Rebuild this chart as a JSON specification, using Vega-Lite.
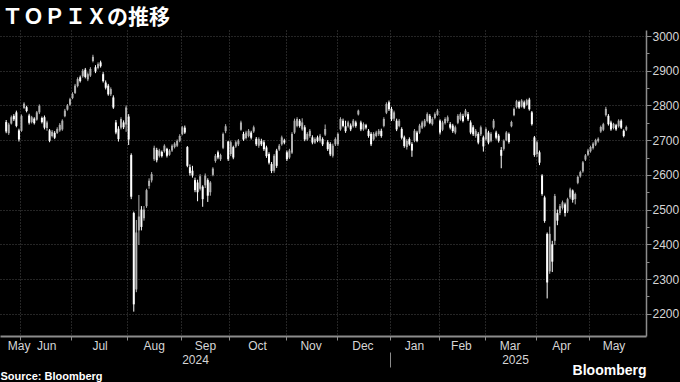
{
  "$schema": "https://vega.github.io/schema/vega-lite/v6.json",
  "width": 646,
  "height": 306,
  "autosize": "none",
  "padding": {"left": 0, "top": 30, "right": 34, "bottom": 46},
  "background": "#000000",
  "title": {"text": "ＴＯＰＩＸの推移", "anchor": "start", "frame": "group", "font": "Noto Sans CJK JP", "fontSize": 21, "fontWeight": "bold", "color": "#ffffff", "offset": 5, "baseline": "alphabetic", "dx": 2, "dy": 20},
  "config": {"view": {"stroke": null}},
  "data": {"values": [
{"i":0,"o":2752,"h":2758,"l":2720,"c":2725},
{"i":1,"o":2720,"h":2750,"l":2715,"c":2745},
{"i":2,"o":2748,"h":2771,"l":2745,"c":2766},
{"i":3,"o":2770,"h":2775,"l":2755,"c":2760},
{"i":4,"o":2780,"h":2785,"l":2737,"c":2741},
{"i":5,"o":2728,"h":2733,"l":2696,"c":2702},
{"i":6,"o":2727,"h":2774,"l":2724,"c":2770},
{"i":7,"o":2793,"h":2809,"l":2790,"c":2805},
{"i":8,"o":2795,"h":2799,"l":2780,"c":2784},
{"i":9,"o":2771,"h":2776,"l":2745,"c":2750},
{"i":10,"o":2752,"h":2770,"l":2748,"c":2766},
{"i":11,"o":2762,"h":2766,"l":2745,"c":2749},
{"i":12,"o":2759,"h":2784,"l":2756,"c":2780},
{"i":13,"o":2780,"h":2803,"l":2775,"c":2799},
{"i":14,"o":2764,"h":2768,"l":2748,"c":2752},
{"i":15,"o":2766,"h":2771,"l":2731,"c":2736},
{"i":16,"o":2735,"h":2756,"l":2727,"c":2751},
{"i":17,"o":2728,"h":2732,"l":2694,"c":2698},
{"i":18,"o":2712,"h":2729,"l":2708,"c":2724},
{"i":19,"o":2721,"h":2726,"l":2703,"c":2707},
{"i":20,"o":2721,"h":2737,"l":2718,"c":2732},
{"i":21,"o":2728,"h":2749,"l":2724,"c":2744},
{"i":22,"o":2731,"h":2760,"l":2727,"c":2756},
{"i":23,"o":2769,"h":2790,"l":2766,"c":2785},
{"i":24,"o":2788,"h":2804,"l":2785,"c":2800},
{"i":25,"o":2802,"h":2822,"l":2799,"c":2818},
{"i":26,"o":2821,"h":2838,"l":2818,"c":2833},
{"i":27,"o":2836,"h":2862,"l":2833,"c":2857},
{"i":28,"o":2856,"h":2881,"l":2852,"c":2876},
{"i":29,"o":2881,"h":2886,"l":2866,"c":2870},
{"i":30,"o":2884,"h":2905,"l":2880,"c":2900},
{"i":31,"o":2903,"h":2908,"l":2878,"c":2882},
{"i":32,"o":2875,"h":2895,"l":2870,"c":2890},
{"i":33,"o":2886,"h":2910,"l":2882,"c":2905},
{"i":34,"o":2928,"h":2946,"l":2924,"c":2940},
{"i":35,"o":2910,"h":2916,"l":2893,"c":2898},
{"i":36,"o":2908,"h":2924,"l":2904,"c":2919},
{"i":37,"o":2924,"h":2929,"l":2909,"c":2913},
{"i":38,"o":2890,"h":2896,"l":2866,"c":2870},
{"i":39,"o":2866,"h":2872,"l":2846,"c":2851},
{"i":40,"o":2857,"h":2862,"l":2828,"c":2832},
{"i":41,"o":2832,"h":2852,"l":2827,"c":2847},
{"i":42,"o":2823,"h":2829,"l":2790,"c":2794},
{"i":43,"o":2751,"h":2758,"l":2717,"c":2722},
{"i":44,"o":2733,"h":2740,"l":2696,"c":2703},
{"i":45,"o":2736,"h":2766,"l":2731,"c":2761},
{"i":46,"o":2751,"h":2757,"l":2732,"c":2737},
{"i":47,"o":2745,"h":2800,"l":2724,"c":2794},
{"i":48,"o":2768,"h":2775,"l":2686,"c":2702},
{"i":49,"o":2657,"h":2662,"l":2530,"c":2537},
{"i":50,"o":2490,"h":2494,"l":2206,"c":2227},
{"i":51,"o":2270,"h":2470,"l":2262,"c":2434},
{"i":52,"o":2440,"h":2542,"l":2398,"c":2480},
{"i":53,"o":2500,"h":2510,"l":2440,"c":2450},
{"i":54,"o":2475,"h":2510,"l":2468,"c":2500},
{"i":55,"o":2510,"h":2560,"l":2505,"c":2556},
{"i":56,"o":2568,"h":2590,"l":2560,"c":2583},
{"i":57,"o":2584,"h":2608,"l":2578,"c":2602},
{"i":58,"o":2645,"h":2684,"l":2640,"c":2678},
{"i":59,"o":2672,"h":2678,"l":2636,"c":2642},
{"i":60,"o":2655,"h":2675,"l":2650,"c":2670},
{"i":61,"o":2666,"h":2670,"l":2650,"c":2654},
{"i":62,"o":2668,"h":2688,"l":2664,"c":2684},
{"i":63,"o":2675,"h":2678,"l":2650,"c":2655},
{"i":64,"o":2658,"h":2674,"l":2655,"c":2670},
{"i":65,"o":2670,"h":2688,"l":2666,"c":2684},
{"i":66,"o":2680,"h":2694,"l":2676,"c":2690},
{"i":67,"o":2684,"h":2702,"l":2680,"c":2698},
{"i":68,"o":2698,"h":2717,"l":2694,"c":2712},
{"i":69,"o":2717,"h":2741,"l":2714,"c":2737},
{"i":70,"o":2736,"h":2742,"l":2718,"c":2722},
{"i":71,"o":2680,"h":2683,"l":2622,"c":2626},
{"i":72,"o":2622,"h":2630,"l":2598,"c":2605},
{"i":73,"o":2612,"h":2626,"l":2592,"c":2598},
{"i":74,"o":2585,"h":2592,"l":2550,"c":2556},
{"i":75,"o":2578,"h":2586,"l":2524,"c":2550},
{"i":76,"o":2560,"h":2602,"l":2555,"c":2596},
{"i":77,"o":2566,"h":2570,"l":2508,"c":2530},
{"i":78,"o":2570,"h":2604,"l":2562,"c":2598},
{"i":79,"o":2585,"h":2590,"l":2522,"c":2540},
{"i":80,"o":2550,"h":2582,"l":2540,"c":2578},
{"i":81,"o":2600,"h":2622,"l":2596,"c":2618},
{"i":82,"o":2640,"h":2660,"l":2635,"c":2655},
{"i":83,"o":2665,"h":2670,"l":2645,"c":2650},
{"i":84,"o":2645,"h":2661,"l":2640,"c":2657},
{"i":85,"o":2678,"h":2722,"l":2674,"c":2718},
{"i":86,"o":2726,"h":2746,"l":2720,"c":2740},
{"i":87,"o":2696,"h":2698,"l":2640,"c":2645},
{"i":88,"o":2660,"h":2699,"l":2654,"c":2694},
{"i":89,"o":2680,"h":2684,"l":2645,"c":2650},
{"i":90,"o":2682,"h":2699,"l":2678,"c":2694},
{"i":91,"o":2688,"h":2703,"l":2683,"c":2699},
{"i":92,"o":2730,"h":2756,"l":2727,"c":2751},
{"i":93,"o":2718,"h":2724,"l":2698,"c":2702},
{"i":94,"o":2706,"h":2727,"l":2702,"c":2722},
{"i":95,"o":2712,"h":2732,"l":2708,"c":2727},
{"i":96,"o":2722,"h":2727,"l":2702,"c":2707},
{"i":97,"o":2725,"h":2742,"l":2721,"c":2737},
{"i":98,"o":2704,"h":2709,"l":2683,"c":2688},
{"i":99,"o":2684,"h":2708,"l":2678,"c":2703},
{"i":100,"o":2698,"h":2704,"l":2683,"c":2688},
{"i":101,"o":2694,"h":2700,"l":2669,"c":2674},
{"i":102,"o":2679,"h":2684,"l":2649,"c":2654},
{"i":103,"o":2660,"h":2665,"l":2630,"c":2635},
{"i":104,"o":2631,"h":2637,"l":2605,"c":2611},
{"i":105,"o":2612,"h":2660,"l":2606,"c":2655},
{"i":106,"o":2670,"h":2675,"l":2620,"c":2626},
{"i":107,"o":2673,"h":2689,"l":2669,"c":2684},
{"i":108,"o":2688,"h":2713,"l":2684,"c":2708},
{"i":109,"o":2699,"h":2704,"l":2688,"c":2693},
{"i":110,"o":2665,"h":2670,"l":2640,"c":2645},
{"i":111,"o":2650,"h":2675,"l":2646,"c":2670},
{"i":112,"o":2664,"h":2723,"l":2660,"c":2718},
{"i":113,"o":2722,"h":2762,"l":2718,"c":2756},
{"i":114,"o":2741,"h":2766,"l":2737,"c":2761},
{"i":115,"o":2756,"h":2761,"l":2736,"c":2741},
{"i":116,"o":2731,"h":2763,"l":2727,"c":2751},
{"i":117,"o":2737,"h":2743,"l":2697,"c":2702},
{"i":118,"o":2702,"h":2723,"l":2698,"c":2718},
{"i":119,"o":2712,"h":2732,"l":2707,"c":2727},
{"i":120,"o":2708,"h":2714,"l":2688,"c":2693},
{"i":121,"o":2693,"h":2708,"l":2689,"c":2703},
{"i":122,"o":2708,"h":2713,"l":2694,"c":2698},
{"i":123,"o":2698,"h":2718,"l":2693,"c":2713},
{"i":124,"o":2703,"h":2708,"l":2683,"c":2688},
{"i":125,"o":2716,"h":2745,"l":2712,"c":2732},
{"i":126,"o":2694,"h":2700,"l":2669,"c":2674},
{"i":127,"o":2689,"h":2694,"l":2654,"c":2659},
{"i":128,"o":2655,"h":2690,"l":2650,"c":2684},
{"i":129,"o":2688,"h":2708,"l":2683,"c":2703},
{"i":130,"o":2688,"h":2722,"l":2683,"c":2718},
{"i":131,"o":2731,"h":2766,"l":2727,"c":2761},
{"i":132,"o":2756,"h":2762,"l":2737,"c":2741},
{"i":133,"o":2740,"h":2756,"l":2721,"c":2726},
{"i":134,"o":2740,"h":2756,"l":2736,"c":2751},
{"i":135,"o":2742,"h":2748,"l":2726,"c":2731},
{"i":136,"o":2740,"h":2761,"l":2736,"c":2756},
{"i":137,"o":2751,"h":2756,"l":2736,"c":2741},
{"i":138,"o":2774,"h":2788,"l":2771,"c":2785},
{"i":139,"o":2751,"h":2756,"l":2726,"c":2731},
{"i":140,"o":2731,"h":2751,"l":2727,"c":2746},
{"i":141,"o":2743,"h":2747,"l":2731,"c":2736},
{"i":142,"o":2727,"h":2732,"l":2707,"c":2712},
{"i":143,"o":2718,"h":2723,"l":2683,"c":2688},
{"i":144,"o":2702,"h":2723,"l":2698,"c":2718},
{"i":145,"o":2712,"h":2727,"l":2708,"c":2722},
{"i":146,"o":2717,"h":2732,"l":2712,"c":2727},
{"i":147,"o":2727,"h":2733,"l":2707,"c":2712},
{"i":148,"o":2741,"h":2766,"l":2737,"c":2761},
{"i":149,"o":2779,"h":2809,"l":2775,"c":2804},
{"i":150,"o":2809,"h":2814,"l":2784,"c":2789},
{"i":151,"o":2790,"h":2796,"l":2755,"c":2760},
{"i":152,"o":2762,"h":2785,"l":2755,"c":2780},
{"i":153,"o":2756,"h":2762,"l":2726,"c":2731},
{"i":154,"o":2741,"h":2761,"l":2737,"c":2756},
{"i":155,"o":2732,"h":2737,"l":2702,"c":2707},
{"i":156,"o":2708,"h":2713,"l":2678,"c":2683},
{"i":157,"o":2680,"h":2703,"l":2673,"c":2698},
{"i":158,"o":2703,"h":2708,"l":2684,"c":2688},
{"i":159,"o":2689,"h":2694,"l":2652,"c":2670},
{"i":160,"o":2698,"h":2732,"l":2694,"c":2727},
{"i":161,"o":2722,"h":2727,"l":2694,"c":2698},
{"i":162,"o":2722,"h":2747,"l":2718,"c":2742},
{"i":163,"o":2736,"h":2756,"l":2732,"c":2751},
{"i":164,"o":2741,"h":2761,"l":2737,"c":2756},
{"i":165,"o":2755,"h":2780,"l":2751,"c":2775},
{"i":166,"o":2770,"h":2775,"l":2746,"c":2750},
{"i":167,"o":2746,"h":2766,"l":2742,"c":2761},
{"i":168,"o":2764,"h":2780,"l":2760,"c":2775},
{"i":169,"o":2773,"h":2790,"l":2770,"c":2785},
{"i":170,"o":2756,"h":2760,"l":2716,"c":2722},
{"i":171,"o":2730,"h":2756,"l":2726,"c":2751},
{"i":172,"o":2749,"h":2766,"l":2745,"c":2761},
{"i":173,"o":2755,"h":2771,"l":2750,"c":2766},
{"i":174,"o":2746,"h":2752,"l":2731,"c":2736},
{"i":175,"o":2742,"h":2747,"l":2721,"c":2726},
{"i":176,"o":2722,"h":2742,"l":2717,"c":2737},
{"i":177,"o":2750,"h":2775,"l":2746,"c":2770},
{"i":178,"o":2760,"h":2780,"l":2756,"c":2775},
{"i":179,"o":2770,"h":2776,"l":2751,"c":2755},
{"i":180,"o":2770,"h":2790,"l":2766,"c":2785},
{"i":181,"o":2775,"h":2781,"l":2755,"c":2760},
{"i":182,"o":2751,"h":2757,"l":2717,"c":2722},
{"i":183,"o":2737,"h":2743,"l":2712,"c":2717},
{"i":184,"o":2712,"h":2732,"l":2707,"c":2727},
{"i":185,"o":2718,"h":2723,"l":2688,"c":2693},
{"i":186,"o":2717,"h":2742,"l":2712,"c":2737},
{"i":187,"o":2708,"h":2713,"l":2667,"c":2682},
{"i":188,"o":2702,"h":2737,"l":2698,"c":2732},
{"i":189,"o":2722,"h":2727,"l":2688,"c":2693},
{"i":190,"o":2698,"h":2723,"l":2694,"c":2718},
{"i":191,"o":2736,"h":2761,"l":2731,"c":2756},
{"i":192,"o":2722,"h":2727,"l":2702,"c":2707},
{"i":193,"o":2713,"h":2718,"l":2693,"c":2698},
{"i":194,"o":2672,"h":2680,"l":2619,"c":2655},
{"i":195,"o":2675,"h":2702,"l":2670,"c":2698},
{"i":196,"o":2700,"h":2726,"l":2697,"c":2722},
{"i":197,"o":2718,"h":2722,"l":2690,"c":2695},
{"i":198,"o":2740,"h":2756,"l":2737,"c":2752},
{"i":199,"o":2772,"h":2794,"l":2769,"c":2790},
{"i":200,"o":2795,"h":2816,"l":2791,"c":2812},
{"i":201,"o":2810,"h":2814,"l":2790,"c":2794},
{"i":202,"o":2797,"h":2818,"l":2794,"c":2814},
{"i":203,"o":2809,"h":2814,"l":2790,"c":2794},
{"i":204,"o":2802,"h":2819,"l":2799,"c":2815},
{"i":205,"o":2817,"h":2822,"l":2785,"c":2789},
{"i":206,"o":2780,"h":2784,"l":2742,"c":2746},
{"i":207,"o":2708,"h":2712,"l":2652,"c":2657},
{"i":208,"o":2660,"h":2699,"l":2652,"c":2694},
{"i":209,"o":2665,"h":2670,"l":2628,"c":2635},
{"i":210,"o":2598,"h":2602,"l":2540,"c":2545},
{"i":211,"o":2535,"h":2540,"l":2462,"c":2467},
{"i":212,"o":2430,"h":2434,"l":2244,"c":2290},
{"i":213,"o":2322,"h":2451,"l":2315,"c":2430},
{"i":214,"o":2400,"h":2410,"l":2320,"c":2350},
{"i":215,"o":2410,"h":2545,"l":2398,"c":2539},
{"i":216,"o":2490,"h":2500,"l":2455,"c":2468},
{"i":217,"o":2490,"h":2516,"l":2484,"c":2510},
{"i":218,"o":2505,"h":2526,"l":2500,"c":2521},
{"i":219,"o":2515,"h":2520,"l":2480,"c":2490},
{"i":220,"o":2495,"h":2534,"l":2490,"c":2530},
{"i":221,"o":2535,"h":2563,"l":2530,"c":2558},
{"i":222,"o":2555,"h":2558,"l":2520,"c":2528},
{"i":223,"o":2530,"h":2549,"l":2515,"c":2545},
{"i":224,"o":2577,"h":2598,"l":2573,"c":2594},
{"i":225,"o":2596,"h":2612,"l":2592,"c":2608},
{"i":226,"o":2610,"h":2640,"l":2606,"c":2636},
{"i":227,"o":2644,"h":2660,"l":2640,"c":2656},
{"i":228,"o":2658,"h":2675,"l":2654,"c":2670},
{"i":229,"o":2668,"h":2684,"l":2664,"c":2680},
{"i":230,"o":2677,"h":2694,"l":2673,"c":2690},
{"i":231,"o":2687,"h":2704,"l":2683,"c":2700},
{"i":232,"o":2697,"h":2708,"l":2693,"c":2704},
{"i":233,"o":2725,"h":2742,"l":2721,"c":2738},
{"i":234,"o":2730,"h":2750,"l":2726,"c":2746},
{"i":235,"o":2772,"h":2796,"l":2768,"c":2790},
{"i":236,"o":2770,"h":2775,"l":2742,"c":2746},
{"i":237,"o":2751,"h":2756,"l":2727,"c":2731},
{"i":238,"o":2735,"h":2750,"l":2731,"c":2747},
{"i":239,"o":2743,"h":2747,"l":2727,"c":2731},
{"i":240,"o":2740,"h":2760,"l":2736,"c":2756},
{"i":241,"o":2756,"h":2760,"l":2732,"c":2736},
{"i":242,"o":2727,"h":2731,"l":2708,"c":2712},
{"i":243,"o":2730,"h":2742,"l":2726,"c":2738}
  ]},
  "resolve": {"axis": {"x": "independent", "y": "independent"}},
  "layer": [
    {
      "mark": {"type": "rule", "strokeWidth": 1},
      "encoding": {
        "x": {"field": "i", "type": "quantitative",
          "scale": {"domain": [-0.463, 248.77], "nice": false, "zero": false},
          "axis": {"orient": "bottom", "values": [5.5, 25.5, 47.5, 68.5, 87.5, 109.5, 129.5, 150.5, 169.5, 187.5, 207.5, 228.5],
            "labels": false, "title": null, "grid": true, "gridColor": "#4a4a4a", "gridDash": [1, 2], "gridWidth": 1,
            "domain": true, "domainColor": "#8c8c8c", "domainWidth": 2, "ticks": true, "tickColor": "#8c8c8c", "tickSize": 4, "tickWidth": 1}},
        "y": {"field": "l", "type": "quantitative",
          "scale": {"domain": [2135.8, 3017.3], "nice": false, "zero": false},
          "axis": {"orient": "right", "values": [2200, 2300, 2400, 2500, 2600, 2700, 2800, 2900, 3000], "format": "d", "title": null,
            "grid": true, "gridColor": "#4a4a4a", "gridDash": [1, 2], "gridWidth": 1,
            "domain": true, "domainColor": "#8c8c8c", "domainWidth": 1.5, "ticks": true, "tickSize": 5, "tickColor": "#8c8c8c",
            "labelColor": "#d6d6d6", "labelFont": "Liberation Sans", "labelFontSize": 12, "labelPadding": 1, "labelFlush": false, "labelOverlap": false}},
        "y2": {"field": "h"},
        "color": {"condition": {"test": "datum.c >= datum.o", "value": "#b0b0b0"}, "value": "#ffffff"}
      }
    },
    {
      "mark": {"type": "bar", "width": 2},
      "encoding": {
        "x": {"field": "i", "type": "quantitative",
          "scale": {"domain": [-0.463, 248.77], "nice": false, "zero": false},
          "axis": {"orient": "bottom", "values": [4.9, 15.7, 36.6, 57.8, 77.9, 98.3, 119.3, 139.6, 159.8, 178.2, 197.3, 217.5, 238],
            "labelExpr": "['May','Jun','Jul','Aug','Sep','Oct','Nov','Dec','Jan','Feb','Mar','Apr','May'][indexof([4.9, 15.7, 36.6, 57.8, 77.9, 98.3, 119.3, 139.6, 159.8, 178.2, 197.3, 217.5, 238], datum.value)]",
            "ticks": false, "domain": false, "grid": false,
            "labelColor": "#d6d6d6", "labelFont": "Liberation Sans", "labelFontSize": 12, "labelPadding": 4,
            "labelOverlap": false, "labelFlush": false, "labelBound": false,
            "title": "Bloomberg", "titleAnchor": "end", "titleAlign": "right", "titleColor": "#ffffff", "titleFont": "Liberation Sans",
            "titleFontSize": 14, "titleFontWeight": "bold", "titlePadding": 12}},
        "y": {"field": "o", "type": "quantitative",
          "scale": {"domain": [2135.8, 3017.3], "nice": false, "zero": false},
          "axis": {"orient": "right", "values": [2250, 2350, 2450, 2550, 2650, 2750, 2850, 2950], "title": null,
            "labels": false, "grid": false, "domain": false, "ticks": true, "tickSize": 3, "tickColor": "#8c8c8c"}},
        "y2": {"field": "c"},
        "color": {"condition": {"test": "datum.c >= datum.o", "value": "#b0b0b0"}, "value": "#ffffff"}
      }
    },
    {
      "mark": {"type": "rule", "opacity": 0},
      "encoding": {
        "x": {"field": "i", "type": "quantitative",
          "scale": {"domain": [-0.463, 248.77], "nice": false, "zero": false},
          "axis": {"orient": "bottom", "offset": 16, "values": [74, 150.5, 199.4],
            "labelExpr": "datum.value == 74 ? '2024' : (datum.value == 199.4 ? '2025' : '')",
            "domain": false, "grid": false, "ticks": true, "tickSize": 15, "tickWidth": 1,
            "tickColor": {"condition": {"test": "datum.value == 150.5", "value": "#8c8c8c"}, "value": "transparent"},
            "labelColor": "#d6d6d6", "labelFont": "Liberation Sans", "labelFontSize": 12, "labelPadding": -13,
            "labelOverlap": false, "labelFlush": false, "labelBound": false,
            "title": "Source: Bloomberg", "titleAnchor": "start", "titleAlign": "left", "titleColor": "#ffffff", "titleFont": "Liberation Sans",
            "titleFontSize": 11, "titleFontWeight": "bold", "titlePadding": 3}}
      }
    }
  ]
}
